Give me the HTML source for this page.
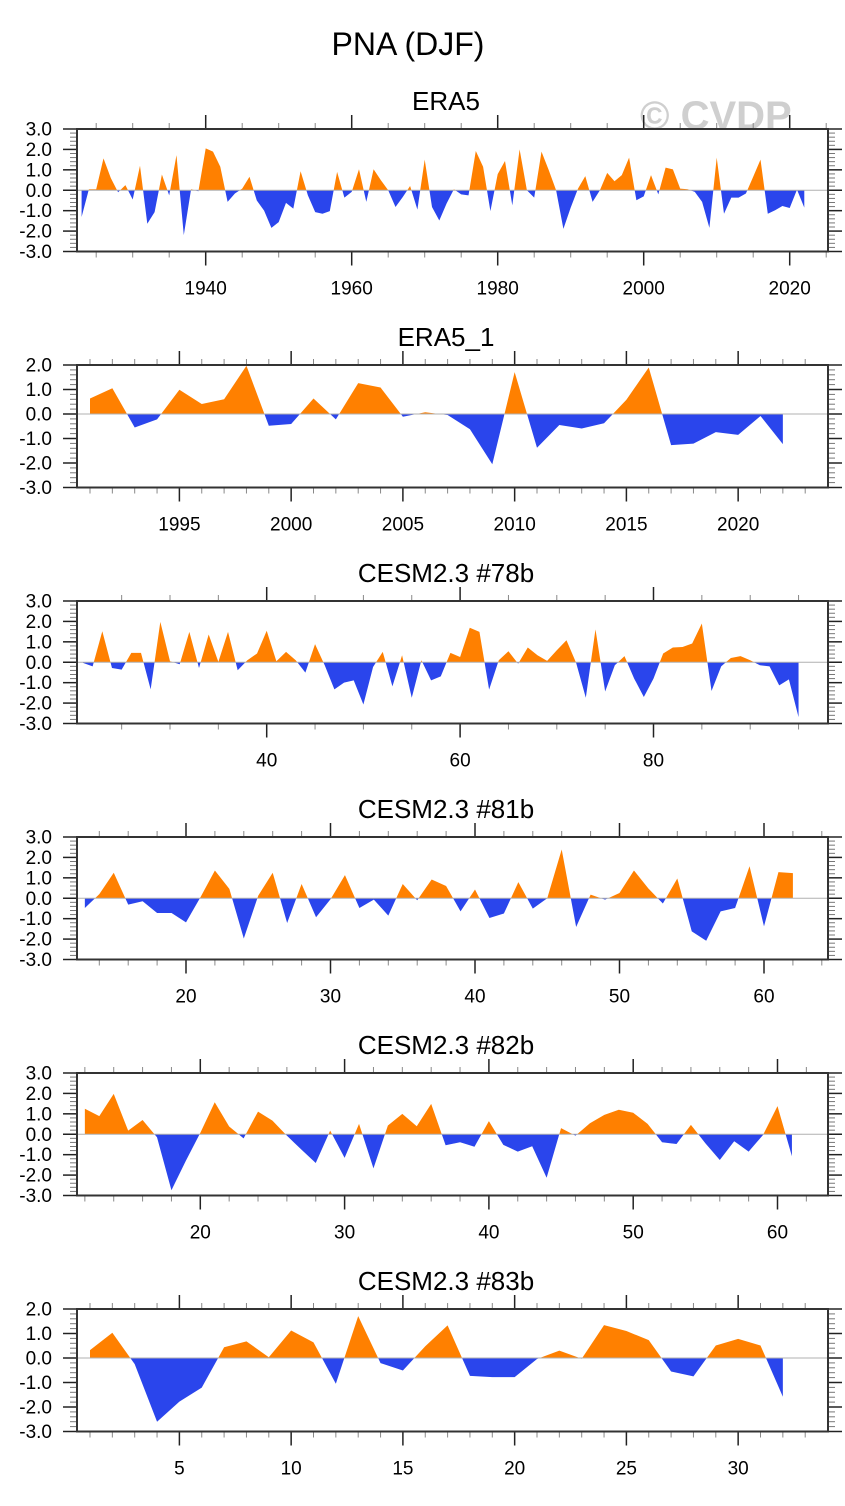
<!DOCTYPE html>
<html><head><meta charset="utf-8"><title>PNA (DJF)</title>
<style>
html,body{margin:0;padding:0;background:#fff;}
svg{display:block;font-family:"Liberation Sans",Arial,sans-serif;}
</style></head>
<body>
<svg id="chart" width="845" height="1506" viewBox="0 0 845 1506" xmlns="http://www.w3.org/2000/svg">
<text x="408" y="55" font-size="32" text-anchor="middle" fill="#000">PNA (DJF)</text>
<text x="640" y="129" font-size="40" font-weight="bold" fill="#cfcfcf">© CVDP</text>
</svg>
<script>
// ---- data arrays ----
const era5Start = 1923;
const era5Values = [-1.31,0.05,0.05,1.56,0.6,-0.1,0.25,-0.45,1.2,-1.64,-1.07,0.77,-0.25,1.72,-2.2,0.05,-0.05,2.05,1.89,1.15,-0.57,-0.16,0.08,0.66,-0.5,-1.0,-1.84,-1.56,-0.62,-0.9,0.93,-0.25,-1.07,-1.15,-1.02,0.9,-0.36,-0.08,1.03,-0.57,1.03,0.49,0,-0.82,-0.33,0.21,-0.95,1.5,-0.82,-1.48,-0.65,0.05,-0.2,-0.25,1.92,1.15,-1.02,0.79,1.43,-0.74,2.0,0,-0.36,1.89,0.98,0,-1.89,-0.85,0.08,0.69,-0.57,0,0.85,0.44,0.74,1.6,-0.49,-0.3,0.74,-0.2,1.11,1.02,0.08,0.05,-0.08,-0.57,-1.84,1.6,-1.15,-0.36,-0.36,-0.16,0.66,1.5,-1.15,-0.98,-0.77,-0.87,0.03,-0.85];
const era5Labels = [1940,1960,1980,2000,2020];

const era51Start = 1991;
const era51Values = [0.63,1.05,-0.55,-0.22,0.99,0.41,0.6,1.97,-0.48,-0.41,0.63,-0.22,1.26,1.08,-0.11,0.07,-0.04,-0.62,-2.05,1.71,-1.38,-0.45,-0.59,-0.38,0.58,1.9,-1.27,-1.21,-0.74,-0.85,-0.08,-1.23];
const era51Labels = [1995,2000,2005,2010,2015,2020];

const m78Start = 21;
const m78Values = [-0.03,-0.2,1.52,-0.28,-0.36,0.46,0.46,-1.33,1.98,0.05,-0.1,1.49,-0.28,1.36,0.02,1.49,-0.39,0.1,0.43,1.54,0.05,0.51,0.1,-0.51,0.89,-0.15,-1.33,-1.0,-0.89,-2.07,-0.23,0.51,-1.18,0.34,-1.74,0.1,-0.89,-0.69,0.46,0.26,1.69,1.49,-1.34,0.1,0.54,-0.07,0.72,0.34,0.07,0.59,1.08,-0.03,-1.74,1.61,-1.43,-0.15,0.3,-0.8,-1.7,-0.8,0.43,0.72,0.75,0.92,1.9,-1.41,-0.2,0.21,0.3,0.1,-0.15,-0.2,-1.13,-0.84,-2.69];
const m78Labels = [40,60,80];

const m81Start = 13;
const m81Values = [-0.48,0.2,1.25,-0.31,-0.15,-0.72,-0.72,-1.18,0.05,1.36,0.46,-1.97,0.13,1.25,-1.21,0.7,-0.93,-0.05,1.13,-0.48,-0.07,-0.85,0.7,-0.1,0.92,0.6,-0.64,0.43,-0.97,-0.75,0.79,-0.51,0,2.39,-1.41,0.18,-0.07,0.26,1.36,0.48,-0.26,0.97,-1.62,-2.08,-0.64,-0.48,1.57,-1.38,1.28,1.23];
const m81Labels = [20,30,40,50,60];

const m82Start = 12;
const m82Values = [1.25,0.89,1.98,0.18,0.7,-0.15,-2.74,-1.3,0.07,1.57,0.38,-0.2,1.11,0.67,-0.07,-0.75,-1.41,0.18,-1.16,0.51,-1.67,0.43,1.0,0.39,1.49,-0.54,-0.39,-0.61,0.64,-0.52,-0.85,-0.59,-2.13,0.3,-0.07,0.54,0.95,1.2,1.05,0.51,-0.39,-0.48,0.46,-0.44,-1.26,-0.34,-0.85,-0.03,1.38,-1.08];
const m82Labels = [20,30,40,50,60];

const m83Start = 1;
const m83Values = [0.32,1.03,-0.25,-2.6,-1.78,-1.21,0.44,0.68,0.03,1.12,0.64,-1.05,1.71,-0.21,-0.51,0.48,1.33,-0.73,-0.78,-0.78,-0.04,0.3,-0.03,1.34,1.1,0.73,-0.55,-0.75,0.51,0.78,0.51,-1.58];
const m83Labels = [5,10,15,20,25,30];

// ---- layout ----
const NS = "http://www.w3.org/2000/svg";
const svg = document.getElementById('chart');
const BOX_L = 77, BOX_R = 828, BOX_H = 122.5;

const panels = [
  {key:'era5', title:'ERA5', top:129, ymin:-3, ymax:3, start:era5Start, vals:era5Values, labels:era5Labels,
   x0:1940, px0:205.7, ppu:7.3, minor:5, major:20, tmin:1925, tmax:2025},
  {key:'era5-1', title:'ERA5_1', top:365, ymin:-3, ymax:2, start:era51Start, vals:era51Values, labels:era51Labels,
   x0:1991, px0:90, ppu:22.35, minor:1, major:5, tmin:1991, tmax:2023},
  {key:'cesm-78b', title:'CESM2.3 #78b', top:601, ymin:-3, ymax:3, start:m78Start, vals:m78Values, labels:m78Labels,
   x0:40, px0:266.7, ppu:9.67, minor:5, major:20, tmin:25, tmax:95},
  {key:'cesm-81b', title:'CESM2.3 #81b', top:837, ymin:-3, ymax:3, start:m81Start, vals:m81Values, labels:m81Labels,
   x0:20, px0:186, ppu:14.45, minor:2, major:10, tmin:14, tmax:64},
  {key:'cesm-82b', title:'CESM2.3 #82b', top:1073, ymin:-3, ymax:3, start:m82Start, vals:m82Values, labels:m82Labels,
   x0:20, px0:200.3, ppu:14.43, minor:2, major:10, tmin:12, tmax:62},
  {key:'cesm-83b', title:'CESM2.3 #83b', top:1309, ymin:-3, ymax:2, start:m83Start, vals:m83Values, labels:m83Labels,
   x0:1, px0:90, ppu:22.35, minor:1, major:5, tmin:1, tmax:33}
];

function mk(tag, attrs, parent){
  const e = document.createElementNS(NS, tag);
  for (const k in attrs) e.setAttribute(k, attrs[k]);
  (parent||svg).appendChild(e);
  return e;
}

panels.forEach((p, pi) => {
  const top = p.top, bot = top + BOX_H;
  const xs = v => p.px0 + (v - p.x0) * p.ppu;
  const ys = v => top + (p.ymax - v) / (p.ymax - p.ymin) * BOX_H;
  const zeroY = ys(0);

  const g = mk('g', {});
  
  

  const t = mk('text', {x:446, y:top-19, 'font-size':26, 'text-anchor':'middle', fill:'#000'}, g);
  t.textContent = p.title;
  
  

  const pts = p.vals.map((v,i) => [xs(p.start+i), ys(v)]);
  let d = 'M' + pts[0][0].toFixed(2) + ',' + zeroY.toFixed(2);
  pts.forEach(q => { d += ' L' + q[0].toFixed(2) + ',' + q[1].toFixed(2); });
  d += ' L' + pts[pts.length-1][0].toFixed(2) + ',' + zeroY.toFixed(2) + ' Z';

  const cpA = mk('clipPath', {id:'ca'+pi}, g);
  mk('rect', {x:0, y:0, width:845, height:zeroY}, cpA);
  const cpB = mk('clipPath', {id:'cb'+pi}, g);
  mk('rect', {x:0, y:zeroY, width:845, height:1506}, cpB);

  const pos = mk('path', {d:d, fill:'#ff8000', 'clip-path':'url(#ca'+pi+')'}, g);
  
  
  const neg = mk('path', {d:d, fill:'#2a45ec', 'clip-path':'url(#cb'+pi+')'}, g);
  
  

  const zl = mk('line', {x1:BOX_L, x2:BOX_R, y1:zeroY, y2:zeroY, stroke:'#b0b0b0', 'stroke-width':1}, g);
  
  

  const nMinor = Math.round((p.ymax - p.ymin) / 0.2);
  for (let k = 0; k <= nMinor; k++) {
    const v = p.ymin + k*0.2;
    const y = ys(v);
    const isMaj = (k % 5 === 0);
    const len = isMaj ? 14 : 7;
    mk('line', {x1:BOX_L-len, x2:BOX_L, y1:y, y2:y, stroke:isMaj?'#222':'#777', 'stroke-width':isMaj?1.5:1}, g);
    mk('line', {x1:BOX_R, x2:BOX_R+len, y1:y, y2:y, stroke:isMaj?'#222':'#777', 'stroke-width':isMaj?1.5:1}, g);
    if (isMaj) {
      const lb = mk('text', {x:52, y:y+6.5, 'font-size':19, 'text-anchor':'end', fill:'#000'}, g);
      lb.textContent = v.toFixed(1);
      
      
    }
  }
  for (let v = p.tmin; v <= p.tmax; v += p.minor) {
    const x = xs(v);
    if (x < BOX_L || x > BOX_R) continue;
    const isMaj = (v % p.major === 0);
    const len = isMaj ? 14 : 6;
    mk('line', {x1:x, x2:x, y1:top-len, y2:top, stroke:isMaj?'#222':'#888', 'stroke-width':isMaj?1.5:1}, g);
    mk('line', {x1:x, x2:x, y1:bot, y2:bot+len, stroke:isMaj?'#222':'#888', 'stroke-width':isMaj?1.5:1}, g);
  }
  p.labels.forEach(v => {
    const lb = mk('text', {x:xs(v), y:bot+43, 'font-size':19, 'text-anchor':'middle', fill:'#000'}, g);
    lb.textContent = v;
    
    
  });

  const fr = mk('rect', {x:BOX_L, y:top, width:BOX_R-BOX_L, height:BOX_H, fill:'none', stroke:'#333', 'stroke-width':2}, g);
  
  
});
</script>
</body></html>
